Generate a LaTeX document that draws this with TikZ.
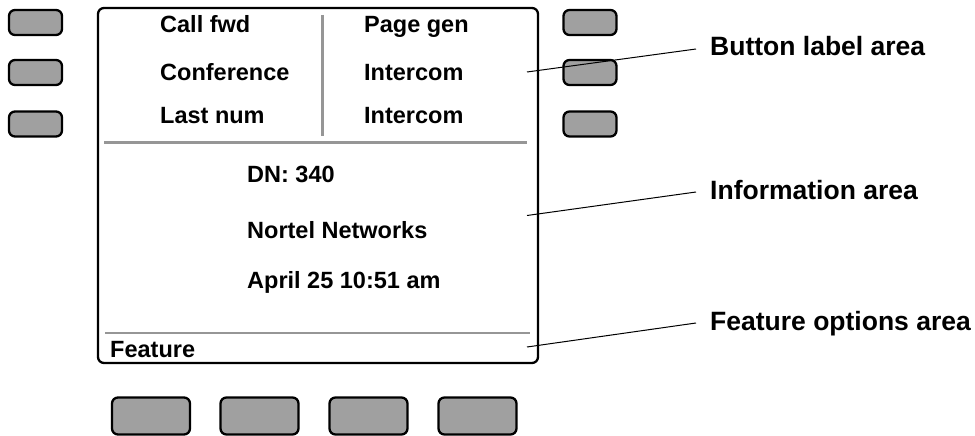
\documentclass[tikz,border=0pt]{standalone}
\usepackage{fontspec}
\setmainfont{Liberation Sans}
\definecolor{keygray}{RGB}{160,160,160}
\definecolor{rulegray}{RGB}{150,150,150}

\begin{document}
\begin{tikzpicture}
        [x=1pt,y=-1pt,
        key/.style={draw,line width=2.3pt,fill=keygray,rounded corners=6pt,
          minimum width=53pt,minimum height=25pt,inner sep=0pt},
        softkey/.style={key,minimum width=78pt,minimum height=37pt},
        scrtext/.style={anchor=base west,inner sep=0pt,
          font=\fontsize{23.5}{28}\selectfont\bfseries},
        area/.style={anchor=west,inner xsep=14pt,inner ysep=0pt,text height=14pt,text depth=0pt,
          font=\fontsize{26.5}{32}\selectfont\bfseries}]
        \useasboundingbox (0,0) rectangle (975,436);

        % display
        \node[draw,line width=2.3pt,rounded corners=6pt,minimum width=440pt,minimum height=355pt,
          inner sep=0pt] (screen) at (318,185.5) {};
        \draw[rulegray,line width=2.5pt] (322.5,15) -- (322.5,136);
        \draw[rulegray,line width=2.5pt] (104,142.5) -- (527,142.5);
        \draw[rulegray,line width=2.5pt] (105,333) -- (530,333);

        % side and soft keys
        \foreach \y [count=\i] in {22.5,72.5,124} {
          \node[key] (lk\i) at (35.5,\y) {};
          \node[key] (rk\i) at (590,\y) {};
        }
        \foreach \x [count=\i] in {151,259.5,368.5,477.5}
          \node[softkey] (sk\i) at (\x,416) {};

        % screen text
        \node[scrtext] (fwd) at (160,33) {Call fwd};
        \node[scrtext] (conf) at (160,81) {Conference};
        \node[scrtext] (last) at (160,123) {Last num};
        \node[scrtext] (page) at (364,33) {Page gen};
        \node[scrtext] (icom) at (364,81) {Intercom};
        \node[scrtext] (icomb) at (364,123) {Intercom};
        \node[scrtext] (dn) at (247,182) {DN: 340};
        \node[scrtext] (name) at (247,238) {Nortel Networks};
        \node[scrtext] (date) at (247,288) {April 25 10:51 am};
        \node[scrtext] (feat) at (110,357) {Feature};

        % callouts
        \node[area] (btnarea) at (696,49) {Button label area};
        \node[area] (infoarea) at (696,192) {Information area};
        \node[area] (featarea) at (696,323) {Feature options area};
        \coordinate (pbtn) at (527,72);
        \coordinate (pinfo) at (527,215.5);
        \coordinate (pfeat) at (527,347);
        \draw[line width=1pt] (pbtn) -- (btnarea.west);
        \draw[line width=1pt] (pinfo) -- (infoarea.west);
        \draw[line width=1pt] (pfeat) -- (featarea.west);
    \end{tikzpicture}
\end{document}
